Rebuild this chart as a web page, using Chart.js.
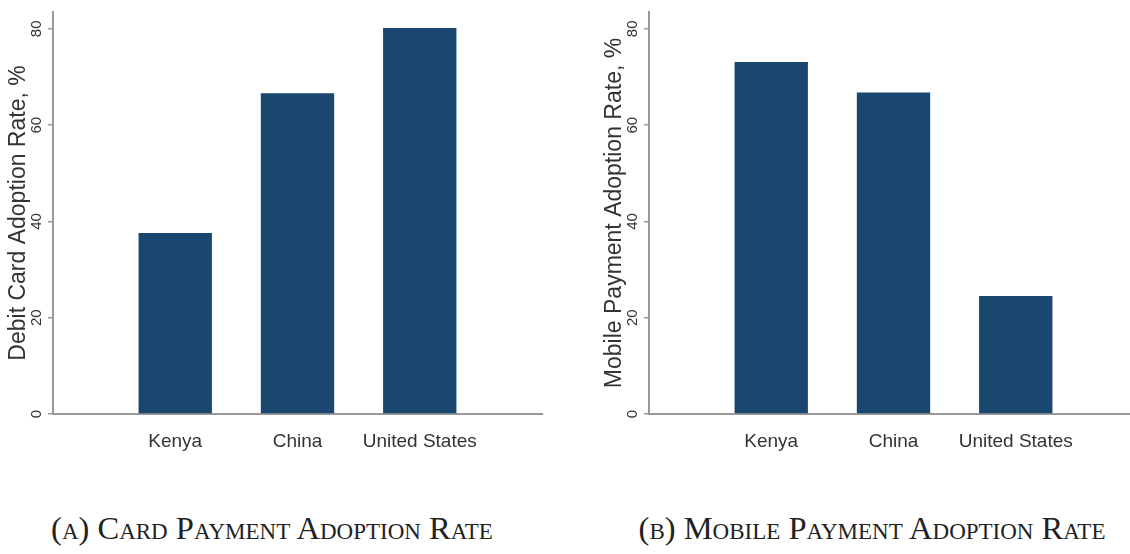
<!DOCTYPE html>
<html>
<head>
<meta charset="utf-8">
<title>Payment Adoption Rates</title>
<script src="https://cdn.jsdelivr.net/npm/chart.js@4"></script>
<style>
    html, body { margin: 0; padding: 0; background: #fff; overflow: hidden; width: 1130px; height: 554px; }
    .panel { position: absolute; top: 0; width: 560px; height: 470px; }
    #panelA { left: 0; }
    #panelB { left: 596px; }
    .caption {
        position: absolute; top: 510px;
        font-family: 'Liberation Serif', 'DejaVu Serif', serif;
        font-variant: small-caps; font-size: 32.5px; color: #222;
        white-space: nowrap; transform: translateX(-50%);
    }
</style>
</head>
<body>
<div class="panel" id="panelA"><canvas id="cardChart"></canvas></div>
<div class="panel" id="panelB"><canvas id="mobileChart"></canvas></div>
<div class="caption" style="left:272px">(a) Card Payment Adoption Rate</div>
<div class="caption" style="left:872px">(b) Mobile Payment Adoption Rate</div>

<script>
// data
const categories = ['Kenya', 'China', 'United States'];
const cardRate = [37.6, 66.6, 80.2];
const mobileRate = [73.1, 66.8, 24.5];
const yTicks = [0, 20, 40, 60, 80];
const yMax = 83.5;

Chart.defaults.font.family = "'Liberation Sans', Arial, sans-serif";
Chart.defaults.color = '#333';

const barColor = '#1a476f';   // stata navy
const axisColor = '#999';

function makeChart(id, values, yTitle) {
    // empty slots either side so the bars sit one step in from each end of the axis
    const labels = [''].concat(categories, ['']);
    const data = [null].concat(values, [null]);

    new Chart(document.getElementById(id), {
        type: 'bar',
        data: {
            labels: labels,
            datasets: [{
                data: data,
                backgroundColor: barColor,
                borderWidth: 0,
                barPercentage: 0.6,
                categoryPercentage: 1.0
            }]
        },
        options: {
            responsive: true,
            maintainAspectRatio: false,
            animation: false,
            layout: { padding: { left: 1, top: 8, right: 18, bottom: 16 } },
            plugins: {
                legend: { display: false },
                tooltip: { enabled: false }
            },
            scales: {
                x: {
                    offset: false,
                    grid: { display: false },
                    border: { display: true, color: axisColor, width: 2 },
                    ticks: { color: '#333', font: { size: 19 }, padding: 8, maxRotation: 0, autoSkip: false },
                    afterFit: s => { s.height = 40; }
                },
                y: {
                    min: 0,
                    max: yMax,
                    afterBuildTicks: s => { s.ticks = yTicks.map(v => ({ value: v })); },
                    grid: { drawOnChartArea: false, drawTicks: true, tickLength: 5, color: axisColor, lineWidth: 1.5 },
                    border: { display: true, color: axisColor, width: 2 },
                    ticks: { color: '#333', font: { size: 15 }, minRotation: 90, maxRotation: 90, crossAlign: 'center', padding: 3 },
                    title: { display: true, text: yTitle, color: '#333', font: { size: 23 }, padding: { top: 4, bottom: 4 } },
                    afterFit: s => { s.width = 52; }
                }
            }
        }
    });
}

makeChart('cardChart', cardRate, 'Debit Card Adoption Rate, %');
makeChart('mobileChart', mobileRate, 'Mobile Payment Adoption Rate, %');
</script>
</body>
</html>
